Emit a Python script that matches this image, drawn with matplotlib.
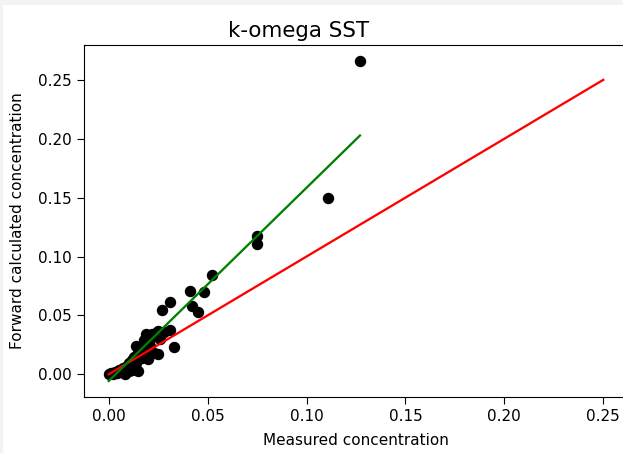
import numpy as np
import matplotlib
matplotlib.use("Agg")
import matplotlib.pyplot as plt
import matplotlib.patches as mpatches

# measured vs forward calculated concentration
measured = [0.127, 0.111, 0.075, 0.075, 0.052, 0.048, 0.041, 0.042, 0.045,
            0.031, 0.027, 0.031, 0.033, 0.025, 0.022, 0.025,
            0.000, 0.001, 0.002, 0.003, 0.004, 0.005, 0.006, 0.007, 0.008,
            0.009, 0.010, 0.010, 0.011, 0.012, 0.012, 0.013, 0.014, 0.015,
            0.015, 0.016, 0.017, 0.018, 0.018, 0.019, 0.020, 0.020, 0.021,
            0.022, 0.023, 0.024, 0.026, 0.028, 0.014, 0.019]
calculated = [0.266, 0.150, 0.117, 0.111, 0.084, 0.070, 0.071, 0.058, 0.053,
              0.061, 0.055, 0.038, 0.023, 0.037, 0.034, 0.017,
              0.000, 0.001, 0.000, 0.002, 0.001, 0.004, 0.002, 0.005, 0.000,
              0.007, 0.003, 0.010, 0.008, 0.012, 0.004, 0.015, 0.010, 0.018,
              0.003, 0.022, 0.014, 0.025, 0.029, 0.020, 0.030, 0.013, 0.024,
              0.032, 0.018, 0.035, 0.030, 0.036, 0.024, 0.034]

# fitted line coefficients and 1:1 reference range
fit_slope = 1.641
fit_intercept = -0.0057
ref_line = [0.0, 0.25]

fig = plt.figure(figsize=(6.23, 4.53), dpi=100, facecolor="#f3f3f3")
fig.patches.append(mpatches.Rectangle((3 / 623, 0), 1, 1 - 5 / 453,
                                      transform=fig.transFigure,
                                      facecolor="white", edgecolor="none",
                                      zorder=-1))
ax = fig.add_axes([84 / 623, 1 - 397 / 453, 544 / 623, 352 / 453])

ax.scatter(measured, calculated, color="black", s=52, zorder=2)
ax.plot(ref_line, ref_line, color="red", lw=1.65)
fit_x = np.array([min(measured), max(measured)])
ax.plot(fit_x, fit_slope * fit_x + fit_intercept, color="green", lw=1.65)

ax.set_xticks([0.0, 0.05, 0.10, 0.15, 0.20, 0.25])
ax.set_yticks([0.0, 0.05, 0.10, 0.15, 0.20, 0.25])
ax.tick_params(labelsize=11, length=5)
ax.set_xlabel("Measured concentration", fontsize=11, labelpad=6.5)
ax.set_ylabel("Forward calculated concentration", fontsize=11, labelpad=9.5)
ax.set_title("k-omega SST", fontsize=15.4, x=0.395)

fig.savefig("out.png", dpi=100, facecolor=fig.get_facecolor())
